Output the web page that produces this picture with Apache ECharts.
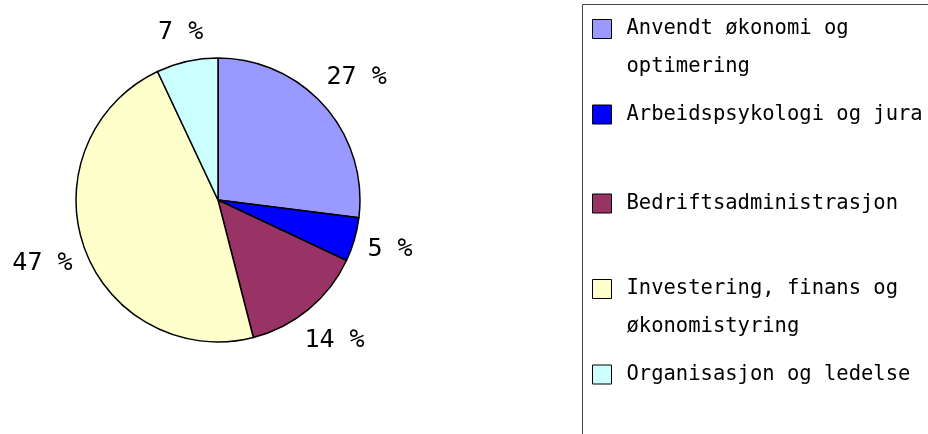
<!DOCTYPE html>
<html lang="no">
<head>
	<meta charset="UTF-8">
	<title>Fordeling</title>
	<style>
		html, body { margin: 0; padding: 0; background: #fff; }
	</style>
</head>
<body>
	<div id="chart" style="width: 928px;height:434px;"></div>
	<script src="https://cdn.jsdelivr.net/npm/echarts@6/dist/echarts.min.js"></script>
	<script>
        // data
        var categories = ['Anvendt økonomi og optimering', 'Arbeidspsykologi og jura', 'Bedriftsadministrasjon', 'Investering, finans og økonomistyring', 'Organisasjon og ledelse'];
        var legendLines = ['Anvendt økonomi og\noptimering', 'Arbeidspsykologi og jura', 'Bedriftsadministrasjon', 'Investering, finans og\nøkonomistyring', 'Organisasjon og ledelse'];
        var values = [27, 5, 14, 47, 7];
        var colors = ['#9999ff', '#0000ff', '#993366', '#ffffcc', '#ccffff'];

        var font = 'DejaVu Sans Mono';
        var cx = 218, cy = 200, radius = 142;
        var myChart = echarts.init(document.getElementById('chart'));

        var total = values.reduce(function (a, b) { return a + b; }, 0);

        // legend: one component per entry so the uneven spacing can be kept
        var legendCenters = [29, 114, 203, 289, 374];
        var legends = categories.map(function (name, i) {
            var twoLines = legendLines[i].indexOf('\n') >= 0;
            return {
                data: [name],
                left: 592,
                top: twoLines ? legendCenters[i] - 57 : legendCenters[i] - 10,
                padding: 0,
                orient: 'vertical',
                icon: 'rect',
                itemWidth: 19,
                itemHeight: 19,
                selectedMode: false,
                itemStyle: { borderColor: '#000', borderWidth: 1 },
                // an empty first line keeps the first text line level with the box
                formatter: function () { return twoLines ? '\n' + legendLines[i] : legendLines[i]; },
                textStyle: {
                    fontFamily: font,
                    fontSize: 20.5,
                    color: '#000',
                    lineHeight: twoLines ? 38 : 20,
                    padding: [0, 0, 0, 10]
                }
            };
        });

        // place each label outside the slice, in the direction of its middle angle
        function placeLabel(params) {
            var i = params.dataIndex;
            var before = 0;
            for (var k = 0; k < i; k++) before += values[k];
            var ang = (before + values[i] / 2) / total * Math.PI * 2;
            var s = Math.sin(ang), c = Math.cos(ang);
            var w = params.labelRect.width, h = params.labelRect.height;
            var d = radius + 12 + w / 2 * Math.abs(s) + h / 2 * Math.abs(c);
            return { x: cx + d * s, y: cy - d * c, align: 'center', verticalAlign: 'middle' };
        }

        var option = {
            animation: false,
            color: colors,
            legend: legends,
            graphic: [{
                type: 'rect',
                shape: { x: 582.5, y: 4.5, width: 400, height: 500 },
                style: { fill: 'none', stroke: '#444', lineWidth: 1 }
            }],
            series: [{
                type: 'pie',
                center: [cx, cy],
                radius: radius,
                startAngle: 90,
                clockwise: true,
                avoidLabelOverlap: false,
                itemStyle: { borderColor: '#000', borderWidth: 1.5 },
                label: {
                    position: 'outside',
                    formatter: '{c} %',
                    fontFamily: font,
                    fontSize: 25,
                    color: '#000'
                },
                labelLine: { show: false, length: 8, length2: 0 },
                labelLayout: placeLabel,
                emphasis: { disabled: true },
                data: categories.map(function (name, i) {
                    return { name: name, value: values[i] };
                })
            }]
        };

        myChart.setOption(option);
	</script>
</body>
</html>
